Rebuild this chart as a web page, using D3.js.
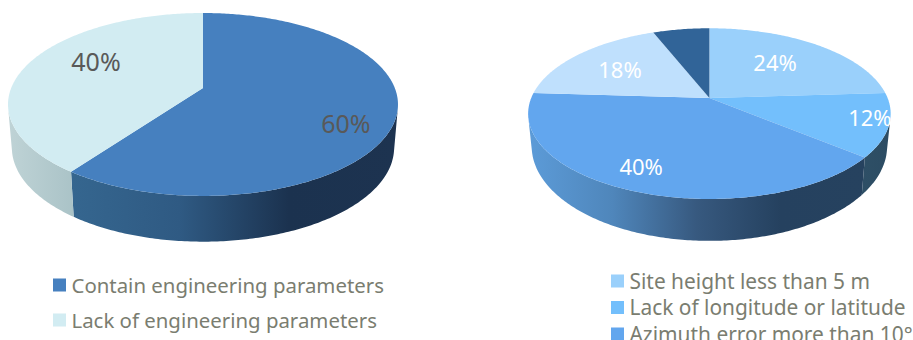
<!DOCTYPE html>
<html>
<head>
<meta charset="utf-8">
<script src="https://cdn.jsdelivr.net/npm/d3@7"></script>
<style>
  html, body { margin: 0; padding: 0; background: #fff; overflow: hidden; }
  svg { display: block; }
  text { font-family: "Noto Sans", "Open Sans", sans-serif; }
</style>
</head>
<body>
<svg id="chart" width="913" height="340"></svg>
<script>
// Share of sites with and without engineering parameters
const siteCategories = ["Contain engineering parameters", "Lack of engineering parameters"];
const siteShares = [60, 40];
const siteLabels = ["60%", "40%"];
const siteTopColors = ["#4680bf", "#d2ecf2"];

// Breakdown of the parameter errors
const errorCategories = ["Site height less than 5 m", "Lack of longitude or latitude", "Azimuth error more than 10°", "Other", "Other errors"];
const errorShares = [24, 12, 40, 18, 6];
const errorLabels = ["24%", "12%", "40%", "18%", ""];
const errorTopColors = ["#9ad0fb", "#73bffc", "#62a6ee", "#bfe0fd", "#316498"];

// Side-wall shading, left to right across the visible part of each slice
const siteWallStops = [
  ["#35668f", "#2f5a83", "#1b324f", "#1d3350"],
  ["#bfd3d6", "#aac3c7"]
];
const errorWallStops = [
  ["#2d4e65", "#2d4e65"],
  ["#2e4f66", "#2c4c63"],
  ["#5c9bd8", "#4f86bb", "#37597f", "#25415f", "#26425f"],
  ["#c4d8e6", "#c4d8e6"],
  ["#2a5685", "#2a5685"]
];

const svg = d3.select("#chart");
const defs = svg.append("defs");
const outline = d3.line();

// A disc seen in perspective: a unit circle is sent through a projective map,
// with the rim's top and bottom each having their own map.
function discProjection(plane) {
  return (u, v) => {
    const w = 1 - plane.k * v;
    return [plane.cx + plane.s * u / w, plane.cy + plane.b * v / w];
  };
}

function drawDisc(cfg) {
  const slices = d3.pie().sort(null).value(d => d)(cfg.shares);
  const top = discProjection(cfg.top);
  const bottom = discProjection(cfg.bottom);
  const at = (proj, a, r = 1) => proj(r * Math.sin(a), -r * Math.cos(a));
  const stepAngles = (a0, a1) => {
    const n = Math.max(2, Math.ceil((a1 - a0) / (Math.PI / 240)));
    return d3.range(n + 1).map(i => a0 + (a1 - a0) * i / n);
  };
  // The rim faces the viewer where its tangent turns clockwise against the drop to the bottom edge
  const facesViewer = a => {
    const p = at(top, a), q = at(top, a + 0.001), b = at(bottom, a);
    return (q[0] - p[0]) * (b[1] - p[1]) - (q[1] - p[1]) * (b[0] - p[0]) < 0;
  };

  // Rim walls go down first, only over the arc that can be seen
  slices.forEach((s, i) => {
    const angles = stepAngles(s.startAngle, s.endAngle).filter(facesViewer);
    if (angles.length < 2) return;
    const id = `${cfg.id}-wall-${i}`;
    const pts = angles.map(a => at(top, a)).concat(angles.slice().reverse().map(a => at(bottom, a)));
    const span = d3.scaleLinear().domain([0, 1]).range(d3.extent(pts, p => p[0]));
    const grad = defs.append("linearGradient").attr("id", id)
      .attr("gradientUnits", "userSpaceOnUse")
      .attr("x1", span(0)).attr("x2", span(1)).attr("y1", 0).attr("y2", 0);
    const stops = cfg.wallStops[i];
    stops.forEach((c, j) => grad.append("stop")
      .attr("offset", j / (stops.length - 1)).attr("stop-color", c));
    svg.append("path").attr("d", outline(pts) + "Z").attr("fill", `url(#${id})`);
  });

  // Top face, one wedge per slice
  slices.forEach((s, i) => {
    const pts = [top(0, 0)].concat(stepAngles(s.startAngle, s.endAngle).map(a => at(top, a)));
    svg.append("path").attr("d", outline(pts) + "Z")
      .attr("fill", cfg.topColors[i]);
  });

  // Percentage labels sit at a polar spot on the top face
  cfg.labels.forEach((label, i) => {
    if (!label) return;
    const spot = cfg.labelSpots[i];
    const p = at(top, spot[0] * Math.PI / 180, spot[1]);
    svg.append("text").attr("x", p[0]).attr("y", p[1] - 1)
      .attr("text-anchor", "middle").attr("dominant-baseline", "central")
      .attr("font-size", cfg.labelSize).attr("fill", cfg.labelColor)
      .text(label);
  });
}

function drawLegend(cfg) {
  const y = d3.scalePoint().domain(cfg.names).range(cfg.yRange);
  const rows = svg.append("g").selectAll("g").data(cfg.names).join("g")
    .attr("transform", d => `translate(${cfg.x},${y(d)})`);
  rows.append("rect").attr("x", 0).attr("y", -6.5).attr("width", 13).attr("height", 13)
    .attr("fill", (d, i) => cfg.colors[i]);
  rows.append("text").attr("x", 18.5).attr("y", -0.5)
    .attr("dominant-baseline", "central")
    .attr("font-size", cfg.size).attr("fill", "#7a7d70")
    .text(d => d);
}

drawDisc({
  id: "site",
  shares: siteShares,
  labels: siteLabels,
  topColors: siteTopColors,
  wallStops: siteWallStops,
  top: { cx: 203, cy: 88, s: 191.8, b: 88.5, k: 0.18 },
  bottom: { cx: 203, cy: 130.7, s: 188, b: 91, k: 0.18 },
  labelSpots: [[118.4, 0.79], [297.8, 0.666]],
  labelSize: 25,
  labelColor: "#595959"
});

drawDisc({
  id: "error",
  shares: errorShares,
  labels: errorLabels,
  topColors: errorTopColors,
  wallStops: errorWallStops,
  top: { cx: 709.4, cy: 98, s: 178.2, b: 82.5, k: 0.183 },
  bottom: { cx: 709.4, cy: 129, s: 174.7, b: 91.4, k: 0.183 },
  labelSpots: [[40.7, 0.613], [105, 0.893], [204.6, 0.798], [304.1, 0.646]],
  labelSize: 22,
  labelColor: "#ffffff"
});

drawLegend({
  names: siteCategories,
  colors: siteTopColors,
  x: 53, yRange: [285, 320], size: 20.4
});

drawLegend({
  names: errorCategories.slice(0, 3),
  colors: errorTopColors.slice(0, 3),
  x: 611, yRange: [281, 334], size: 20.9
});
</script>
</body>
</html>
